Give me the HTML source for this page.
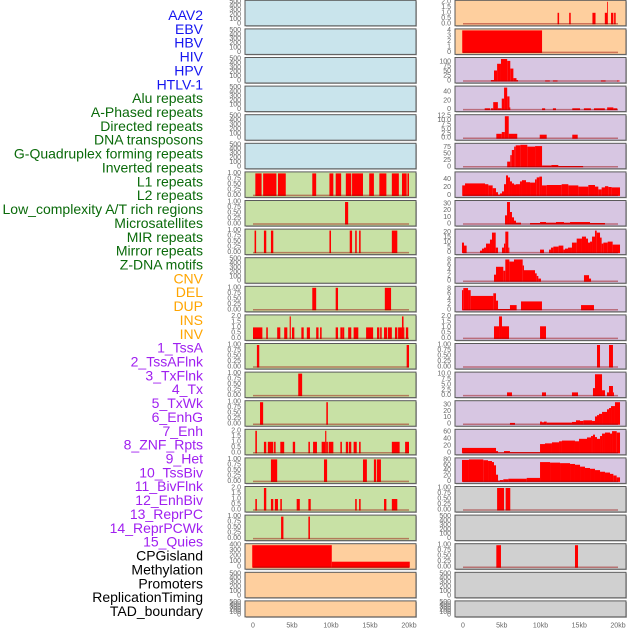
<!DOCTYPE html>
<html><head><meta charset="utf-8"><style>
html,body{margin:0;padding:0;background:#fff;}
svg{display:block;font-family:"Liberation Sans",sans-serif;}
</style></head><body>
<svg id="chart" width="630" height="630" viewBox="0 0 630 630"></svg>
<script>
// ---------- data ----------
const trackLabels = ["AAV2","EBV","HBV","HIV","HPV","HTLV-1","Alu repeats","A-Phased repeats","Directed repeats","DNA transposons","G-Quadruplex forming repeats","Inverted repeats","L1 repeats","L2 repeats","Low_complexity A/T rich regions","Microsatellites","MIR repeats","Mirror repeats","Z-DNA motifs","CNV","DEL","DUP","INS","INV","1_TssA","2_TssAFlnk","3_TxFlnk","4_Tx","5_TxWk","6_EnhG","7_Enh","8_ZNF_Rpts","9_Het","10_TssBiv","11_BivFlnk","12_EnhBiv","13_ReprPC","14_ReprPCWk","15_Quies","CPGisland","Methylation","Promoters","ReplicationTiming","TAD_boundary"];
const labelGroups = [0,0,0,0,0,0,1,1,1,1,1,1,1,1,1,1,1,1,1,2,2,2,2,2,3,3,3,3,3,3,3,3,3,3,3,3,3,3,3,4,4,4,4,4];
const xTickValues = [0,5,10,15,20];
const xTickLabels = ["0","5kb","10kb","15kb","20kb"];
const leftBg = ["b","b","b","b","b","b","g","g","g","g","g","g","g","g","g","g","g","g","g","o","o","o"];
const rightBg = ["o","o","p","p","p","p","p","p","p","p","p","p","p","p","p","p","p","y","y","y","y","y"];
const leftYMax = [500,500,500,500,500,500,1,1,1,500,1,2,1,1,1,2,1,2,1,400,500,500];
const rightYMax = [2,4,115,50,12.5,85,55,33,22,8.4,8.4,2,1,10.3,34,63,82,1,500,1,500,500];
const leftTicks = ["E","E","E","E","E","E","B","B","B","E","B","T","B","B","B","T","B","T","B","C","E","E"];
const rightTicks = ["T","F","H","Q","W","S","Q","D","V","G","G","T","B","K","D","X","Z","B","E","B","E","E"];
// left column segments [startKb, endKb, value]
const L6 = [[0.3,1.1,1],[1.3,3.0,1],[3.2,4.2,1],[7.6,8.1,1],[9.8,10.3,1],[10.6,11.3,1],[11.9,12.6,1],[12.7,14.1,1],[14.9,15.5,1],[16.2,17.1,1],[17.8,18.7,1],[19.1,19.7,1],[19.8,20.0,1]];
const L7 = [[11.8,12.2,1]];
const L8 = [[0.2,0.4,1],[1.4,1.7,1],[2.3,2.6,1],[9.8,10.0,1],[12.4,12.7,1],[13.1,13.3,1],[13.6,13.8,1],[17.8,18.5,1]];
const L10 = [[7.6,8.1,1],[10.6,10.9,1],[16.9,17.7,1]];
const L11 = [[0,1.2,1],[1.7,1.9,1],[3.1,3.5,1],[4.0,4.4,1],[4.7,4.85,2],[5.0,5.3,1],[6.2,6.5,1],[6.9,7.3,1],[8.1,8.4,1],[8.6,8.8,1],[10.6,10.9,1],[11.2,11.5,1],[11.5,11.7,1],[12.2,12.6,1],[12.9,13.5,1],[14.5,15.4,1],[15.9,16.2,1],[16.3,16.5,1],[16.8,17.2,1],[17.3,17.8,1],[18.2,18.5,1],[18.6,19.1,1],[19.1,19.3,2],[19.3,19.4,1],[19.6,19.9,1]];
const L12 = [[0.5,0.8,1],[19.7,20.0,1]];
const L13 = [[5.8,6.3,1]];
const L14 = [[0.9,1.3,1],[9.4,9.6,1]];
const L15 = [[0.3,0.5,2],[1.4,1.7,1],[1.9,2.6,1],[2.7,2.9,1],[3.5,4.0,1],[5.1,5.4,1],[7.1,7.3,1],[7.7,8.2,1],[8.8,9.25,1],[9.25,9.4,2],[9.4,9.6,1],[9.7,10.3,1],[11.2,11.4,1],[11.9,12.2,1],[12.3,12.6,1],[12.9,13.3,1],[13.6,13.8,1],[17.8,18.8,1],[19.5,20.0,1]];
const L16 = [[2.3,3.1,1],[9.1,9.5,1],[14.1,14.6,1],[15.5,15.8,1],[15.9,16.4,1]];
const L17 = [[0.3,0.5,1],[1.4,1.7,2],[2.3,2.6,1],[2.8,3.2,1],[3.5,3.7,1],[5.6,6.0,1],[7.1,7.4,1],[13.1,13.3,1],[13.6,13.8,1],[16.8,17.1,1],[17.8,18.5,1]];
const L18 = [[3.6,3.9,1],[7.1,7.3,1]];
const L19 = [[-0.1,10.1,400],[10.1,20.1,100]];
// right column segments
const R0 = [[12.2,12.4,1],[13.7,13.9,1],[16.7,17.1,1],[18.3,18.6,1],[18.6,18.7,2],[19.1,19.4,1],[19.5,19.7,1]];
const R1 = [[-0.1,10.2,4]];
const R2 = [[3.6,4.0,5],[4.0,4.4,55],[4.4,4.9,90],[4.9,5.7,115],[5.7,6.1,105],[6.1,6.5,65],[6.5,6.9,15],[6.9,7.1,5],[10.6,11.2,3],[11.6,12.2,3],[17.8,18.4,3],[19.9,20.2,3]];
const R3 = [[2.8,3.5,3],[3.6,3.9,3],[3.9,4.5,17],[4.5,5.0,3],[5.0,5.3,25],[5.3,5.7,50],[5.7,6.0,30],[6.0,6.1,5],[10.2,10.6,3],[11.6,12.0,3],[14.1,15.1,3],[15.6,16.5,3],[16.9,18.3,3],[18.6,19.4,5],[19.4,19.9,3]];
const R4 = [[4.3,5.0,2.5],[5.0,5.4,3.5],[5.4,5.9,12.5],[5.9,7.0,2.5],[9.9,10.8,2],[14.1,14.8,2]];
const R5 = [[5.7,6.1,20],[6.1,6.3,45],[6.3,6.6,65],[6.6,6.8,78],[6.8,7.4,83],[7.4,8.3,85],[8.3,9.3,78],[9.3,10.2,80],[10.2,11.4,5],[11.4,12.3,7],[12.3,15.5,3]];
const R6edges = [-0.1,0.26,2.84,3.27,3.83,4.26,4.52,4.77,5.03,5.29,5.55,5.81,6.06,6.32,6.58,6.84,7.35,7.61,8.13,8.65,9.29,9.51,9.85,10.19,10.8,12.73,13.59,14.88,16.17,17.03,17.46,17.89,18.32,18.75,19.18,20.26];
const R6vals = [25,30,28,25,18,8,2,5,10,28,50,45,35,30,27,28,35,38,33,32,40,45,47,25,26,28,25,22,26,22,15,20,23,21,20];
const R7 = [[5.42,5.68,13],[5.68,6.06,33],[6.06,6.32,18],[6.32,6.58,10],[6.58,6.84,5],[6.84,7.48,2],[8.65,9.94,1.5],[9.94,10.71,3],[10.71,12.0,2],[12.0,13.03,3],[13.03,13.81,2],[13.81,16.39,3],[16.39,18.32,1.5]];
const R8 = [[-0.13,0.13,10],[0.13,0.47,7],[2.19,2.45,2],[2.45,2.71,4],[2.71,2.97,5],[2.97,3.48,9],[3.48,3.74,13],[3.74,4.22,20],[4.22,4.52,5],[5.03,5.29,5],[5.29,5.46,9],[5.46,5.85,21],[5.85,5.98,5],[9.94,10.45,3],[11.1,11.35,3],[11.35,11.66,5],[11.66,12.34,6],[12.34,12.95,7],[12.95,13.16,3],[13.16,13.55,4],[13.55,14.06,5],[14.06,14.67,10],[14.67,15.35,14],[15.35,15.87,16],[15.87,16.13,14],[16.13,16.39,10],[16.39,16.65,11],[16.65,17.03,16],[17.03,17.25,22],[17.25,17.68,20],[17.68,17.89,15],[17.89,18.11,9],[18.11,18.67,10],[18.67,19.31,11],[19.31,20.26,8]];
const R9 = [[4.0,4.26,2.5],[4.26,5.2,5.5],[5.2,5.46,4],[5.46,5.98,8.3],[5.98,6.58,7.5],[6.58,7.7,8.3],[7.7,7.87,6],[7.87,9.29,4.2],[9.29,9.51,3],[9.51,9.72,2],[9.72,10.06,1],[15.61,16.26,2.3],[16.26,16.52,1]];
const R10 = [[-0.13,0.04,7.5],[0.04,0.65,8.3],[0.65,0.99,7.5],[0.99,3.91,5.3],[3.91,4.26,6.3],[4.26,4.52,3.5],[4.52,6.06,0.3],[6.06,6.92,1.8],[7.48,10.19,3.2],[15.23,16.9,1.8]];
const R11 = [[4.0,4.65,1.1],[4.65,5.03,2],[5.03,5.94,1.1],[9.94,10.71,1.1]];
const R12 = [[17.29,17.68,1],[18.84,19.35,1]];
const R13 = [[5.68,6.32,1.5],[10.19,10.71,1.5],[14.06,14.84,1.5],[16.77,17.03,3.5],[17.03,17.94,10],[17.94,18.32,2.5],[18.58,18.84,1.5],[18.84,19.35,4.5],[19.35,19.48,1.5]];
const R14 = [[6.06,6.71,2],[9.94,10.19,4],[10.19,10.45,3],[10.45,10.8,4],[10.8,14.06,2.5],[14.06,14.58,3.5],[14.58,15.1,6],[15.1,15.53,5],[15.53,16.65,6],[16.65,17.03,5],[17.03,17.29,12],[17.29,17.55,14],[17.55,17.94,16],[17.94,18.58,19],[18.58,18.84,23],[18.84,19.1,25],[19.1,19.61,28],[19.61,20.26,34]];
const R15 = [[-0.13,4.26,14],[4.26,4.52,5],[4.52,5.29,1],[5.29,6.06,5],[6.06,9.94,2],[9.94,10.58,25],[10.58,11.48,27],[11.48,12.39,30],[12.39,12.77,33],[12.77,14.45,35],[14.45,14.97,33],[14.97,16.0,40],[16.0,16.52,44],[16.52,16.77,48],[16.77,17.03,52],[17.03,17.29,45],[17.29,17.68,40],[17.68,17.94,48],[17.94,18.32,55],[18.32,18.97,58],[18.97,19.23,55],[19.23,19.83,62],[19.83,20.26,58]];
const R16 = [[-0.13,0.77,80],[0.77,2.62,82],[2.62,3.23,79],[3.23,3.74,76],[3.74,4.0,72],[4.0,4.26,60],[4.26,4.52,25],[4.52,4.77,3],[4.77,5.2,5],[5.2,5.85,8],[5.85,8.22,10],[8.22,9.94,13],[9.94,11.23,72],[11.23,12.52,70],[12.52,13.81,68],[13.81,14.45,65],[14.45,15.1,62],[15.1,15.74,55],[15.74,16.39,50],[16.39,17.03,47],[17.03,17.68,42],[17.68,18.32,36],[18.32,18.97,33],[18.97,19.4,28],[19.4,19.83,22],[19.83,20.26,15]];
const R17 = [[4.4,5.3,1],[5.5,6.1,1]];
const R19 = [[4.3,4.9,1],[14.45,14.84,1]];

// ---------- layout ----------
const NS = "http://www.w3.org/2000/svg";
const svg = document.getElementById("chart");
function mk(tag, attrs, parent){const e=document.createElementNS(NS,tag);for(const k in attrs)e.setAttribute(k,attrs[k]);(parent||svg).appendChild(e);return e;}
function stepToSegs(edges, vals){const s=[];for(let i=0;i<vals.length;i++)s.push([edges[i],edges[i+1],vals[i]]);return s;}
const R6 = stepToSegs(R6edges, R6vals);
const leftData = [null,null,null,null,null,null,L6,L7,L8,null,L10,L11,L12,L13,L14,L15,L16,L17,L18,L19,null,null];
const rightData = [R0,R1,R2,R3,R4,R5,R6,R7,R8,R9,R10,R11,R12,R13,R14,R15,R16,R17,null,R19,null,null];
const bgColors = {b:"#c9e4ec",g:"#c8e1a5",o:"#fecf9e",p:"#d7c6e2",y:"#d0d0d0"};
const tickSets = {E:[0,100,200,300,400,500],B:[0,0.25,0.5,0.75,1],T:[0,0.5,1,1.5,2],C:[0,100,200,300,400],F:[0,1,2,3,4],H:[0,25,50,75,100],Q:[0,20,40],W:[0,2.5,5,7.5,10,12.5],S:[0,25,50,75],D:[0,10,20,30],V:[0,5,10,15,20],G:[0,2,4,6,8],K:[0,2.5,5,7.5,10],X:[0,20,40,60],Z:[0,20,40,60,80]};
const tickDec = {E:0,B:2,T:1,C:0,F:0,H:0,Q:0,W:1,S:0,D:0,V:0,G:0,K:1,X:0,Z:0};
const labelColors = ["#1515f0","#0a6a0a","#ffa500","#a020f0","#000000"];

function rowTop(i){return 0.3 + 28.6*i;}
function rowH(i){return i===21 ? 16 : 25.5;}
const cols = [
  {x0:245, w:171, kb0:253, kbScale:7.8, bg:leftBg, data:leftData, ymax:leftYMax, ticks:leftTicks, name:"left"},
  {x0:455, w:171, kb0:463, kbScale:7.75, bg:rightBg, data:rightData, ymax:rightYMax, ticks:rightTicks, name:"right"}
];

// labels
trackLabels.forEach((t,i)=>{
  const e = mk("text",{x:203,y:15+i*13.86,"text-anchor":"end","dominant-baseline":"central","font-size":"14",fill:labelColors[labelGroups[i]]});
  e.textContent = t;
  
  
});

cols.forEach(c=>{
  const xScale = kb => c.kb0 + c.kbScale*kb;
  for(let i=0;i<22;i++){
    const top=rowTop(i), h=rowH(i), bot=top+h;
    const y0 = bot-2, y1 = top+1.5;
    const ymax = c.ymax[i];
    const yScale = v => y0 - (v/ymax)*(y0-y1);
    const g = mk("g",{});
    
    
    mk("rect",{x:c.x0+1,y:top+1,width:c.w,height:h,fill:"#bbb"},g);
    const bg = mk("rect",{x:c.x0,y:top,width:c.w,height:h,fill:bgColors[c.bg[i]],stroke:"#5a5a5a","stroke-width":"1"},g);
    
    
    const segs = c.data[i];
    if(segs){
      segs.forEach(s=>{
        const xa=xScale(s[0]), xb=xScale(s[1]);
        const r = mk("rect",{x:xa,y:yScale(s[2]),width:Math.max(0.8,xb-xa),height:y0-yScale(s[2])+0.5,fill:"#ff0000"},g);
        
        
      });
      const bl = mk("line",{x1:xScale(0),x2:xScale(20),y1:y0,y2:y0,stroke:"rgba(150,0,0,0.45)","stroke-width":"1.5"},g);
      
      
    }
    const tk = tickSets[c.ticks[i]], dec = tickDec[c.ticks[i]];
    tk.forEach(v=>{
      const t = mk("text",{x:c.x0-4,y:yScale(v),"text-anchor":"end","dominant-baseline":"central","font-size":"7",fill:"#666"},g);
      t.textContent = v.toFixed(dec);
      
      
    });
  }
  xTickValues.forEach((v,k)=>{
    const t = mk("text",{x:xScale(v),y:626,"text-anchor":"middle","dominant-baseline":"central","font-size":"7",fill:"#666"});
    t.textContent = xTickLabels[k];
    
    
  });
});
</script>
</body></html>
